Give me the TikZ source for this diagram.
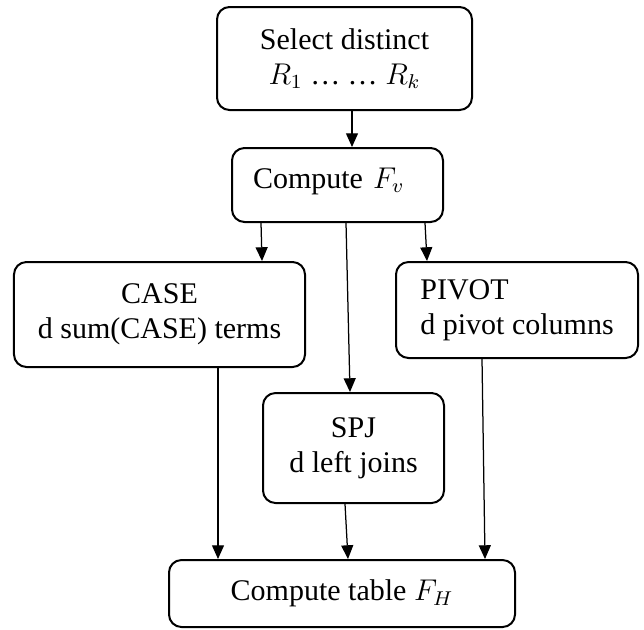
\documentclass[tikz,border=0pt]{standalone}
\usepackage{fontspec}
\setmainfont{Liberation Serif}
\usetikzlibrary{arrows.meta,calc}

\begin{document}
\begin{tikzpicture}[
  x=0.4pt, y=-0.4pt,
  every node/.style={
    draw,
    line width=0.8pt,
    rounded corners=5pt,
    align=center,
    font=\fontsize{12pt}{14pt}\selectfont,
    inner sep=0pt
  },
  arrow/.style={-{Triangle[length=5.5pt,width=4.8pt]}, line width=0.5pt}
]
\useasboundingbox (0,0) rectangle (644,629);

\node[minimum width=102pt, minimum height=41.2pt] (sel) at (344.5,58.5)
  {Select distinct\\$R_1$ … … $R_k$};
\node[minimum width=84.4pt, minimum height=29.6pt, text width=67.6pt, align=left,
      inner xsep=8.4pt, text depth=5.6pt] (cfv) at (337.5,185)
  {Compute $F_v$};
\node[minimum width=116.4pt, minimum height=42pt] (case) at (159.5,314.5)
  {CASE\\d sum(CASE) terms};
\node[minimum width=96.8pt, minimum height=38.4pt, align=left] (pivot) at (517,310)
  {PIVOT\\d pivot columns};
\node[minimum width=72.4pt, minimum height=44pt] (spj) at (353.5,448)
  {SPJ\\d left joins};
\node[minimum width=138.4pt, minimum height=26.8pt] (cft) at (342,593.5)
  {Compute table $F_H$};

\draw[arrow] ($(sel.south)+(7.5,0)$) -- ($(cfv.north)+(14.5,0)$);
\draw[arrow] ($(cfv.south)+(-76.5,0)$) -- ($(case.north)+(102.5,0)$);
\draw[arrow] ($(cfv.south)+(8.5,0)$) -- ($(spj.north)+(-3.5,0)$);
\draw[arrow] ($(cfv.south)+(87.5,0)$) -- ($(pivot.north)+(-90,0)$);
\draw[arrow] ($(case.south)+(58.5,0)$) -- ($(cft.north)+(-124,0)$);
\draw[arrow] ($(spj.south)+(-8.5,0)$) -- ($(cft.north)+(6,0)$);
\draw[arrow] ($(pivot.south)+(-35,0)$) -- ($(cft.north)+(143,0)$);
\end{tikzpicture}
\end{document}
